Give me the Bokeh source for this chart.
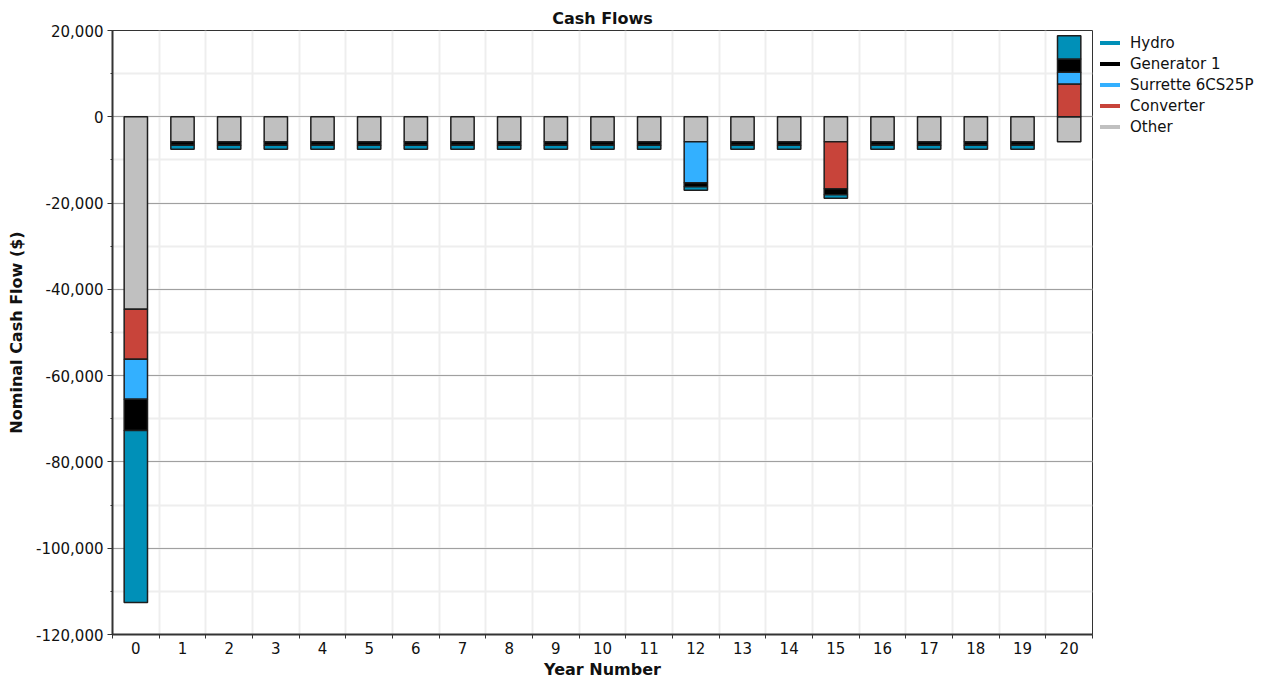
import numpy as np
from bokeh.plotting import figure
from bokeh.models import (ColumnDataSource, FixedTicker, NumeralTickFormatter,
                          Legend, LegendItem, Range1d)
from bokeh.embed import file_html
from bokeh.resources import INLINE

years = list(range(21))
year_labels = [str(y) for y in years]
hydro = [-39900] + [-900] * 11 + [-800] + [-900] * 2 + [-800] + [-900] * 4 + [5400]
generator = [-7200] + [-800] * 11 + [-900, -800, -800, -1400, -800, -800, -800, -800, 3100]
surrette = [-9300] + [0] * 11 + [-9500] + [0] * 7 + [2700]
converter = [-11600] + [0] * 14 + [-10900] + [0] * 4 + [7600]
other = [-44600] + [-5800] * 19 + [-5800]

# stacking order from zero outward
series = [
    ("Other", other, "#C0C0C0"),
    ("Converter", converter, "#C8443A"),
    ("Surrette 6CS25P", surrette, "#33B0FF"),
    ("Generator 1", generator, "#000000"),
    ("Hydro", hydro, "#0090B8"),
]
legend_order = ["Hydro", "Generator 1", "Surrette 6CS25P", "Converter", "Other"]

FONT = "DejaVu Sans"
FRAME_W, FRAME_H = 980, 604

p = figure(frame_width=FRAME_W, frame_height=FRAME_H,
           output_backend="svg", toolbar_location=None,
           x_range=Range1d(-0.5, 20.5), y_range=Range1d(-120000, 20000),
           min_border_left=112, min_border_right=183, min_border_top=30,
           min_border_bottom=45)

p.title.text = "Cash Flows"
p.title.align = "center"
p.title.text_font = FONT
p.title.text_font_size = "16px"
p.title.text_font_style = "bold"
p.title.text_color = "#111111"
p.title.standoff = 5

pos = np.zeros(len(years))
neg = np.zeros(len(years))
yrs = np.array(years)
for name, vals, color in series:
    v = np.array(vals, dtype=float)
    bottom = np.where(v >= 0, pos, neg)
    top = bottom + v
    pos = np.where(v >= 0, top, pos)
    neg = np.where(v < 0, top, neg)
    m = v != 0
    src = ColumnDataSource(dict(x=yrs[m], bottom=bottom[m], top=top[m]))
    p.vbar(x="x", bottom="bottom", top="top", width=0.5, source=src,
           fill_color=color, line_color="#1e1e1e", line_width=1.5)

colors = {n: c for n, _, c in series}
items = []
for n in legend_order:
    # legend-only line: a single undefined point, so nothing is drawn in the plot
    r = p.line(x=[years[0]], y=[float("nan")], line_color=colors[n],
               line_width=4, line_cap="round")
    items.append(LegendItem(label=n, renderers=[r]))

legend = Legend(items=items, location=(8, FRAME_H - 2 - 105),
                label_text_font=FONT, label_text_font_size="15px",
                label_text_color="#111111",
                label_height=21, glyph_width=20, glyph_height=21, spacing=0,
                padding=0, margin=0, label_standoff=10,
                border_line_alpha=0, background_fill_alpha=0)
p.add_layout(legend, "right")

# axes
p.xaxis.ticker = FixedTicker(ticks=years, minor_ticks=[i - 0.5 for i in range(22)])
p.xaxis.major_label_overrides = {y: l for y, l in zip(years, year_labels)}
p.xaxis.major_tick_out = 0
p.xaxis.major_tick_in = 0
p.xaxis.minor_tick_out = 4
p.xaxis.minor_tick_in = 0
p.xaxis.major_label_standoff = 3
p.xaxis.axis_label = "Year Number"
p.xaxis.axis_label_standoff = 3

p.yaxis.ticker = FixedTicker(ticks=list(range(-120000, 20001, 20000)),
                             minor_ticks=list(range(-120000, 20001, 10000)))
p.yaxis.formatter = NumeralTickFormatter(format="0,0")
p.yaxis.major_tick_out = 5
p.yaxis.major_tick_in = 0
p.yaxis.minor_tick_out = 2
p.yaxis.minor_tick_in = 0
p.yaxis.major_label_standoff = 4
p.yaxis.axis_label = "Nominal Cash Flow ($)"
p.yaxis.axis_label_standoff = 7

for ax in (p.xaxis[0], p.yaxis[0]):
    ax.axis_line_color = "#333333"
    ax.axis_line_width = 2
    ax.major_tick_line_color = "#333333"
    ax.minor_tick_line_color = "#333333"
    ax.major_label_text_font = FONT
    ax.major_label_text_font_size = "15px"
    ax.major_label_text_color = "#111111"
    ax.axis_label_text_font = FONT
    ax.axis_label_text_font_size = "16px"
    ax.axis_label_text_font_style = "bold"
    ax.axis_label_text_color = "#111111"

p.xgrid.ticker = FixedTicker(ticks=[i - 0.5 for i in range(22)])
p.xgrid.grid_line_color = "#EEEEEE"
p.xgrid.grid_line_width = 2
p.ygrid.ticker = FixedTicker(ticks=list(range(-120000, 20001, 20000)),
                             minor_ticks=list(range(-120000, 20001, 10000)))
p.ygrid.grid_line_color = "#A0A0A0"
p.ygrid.grid_line_width = 1
p.ygrid.minor_grid_line_color = "#EEEEEE"
p.ygrid.minor_grid_line_width = 2

p.outline_line_color = "#333333"
p.outline_line_width = 1
p.background_fill_color = "white"

open("out.html", "w").write(file_html(p, INLINE))
